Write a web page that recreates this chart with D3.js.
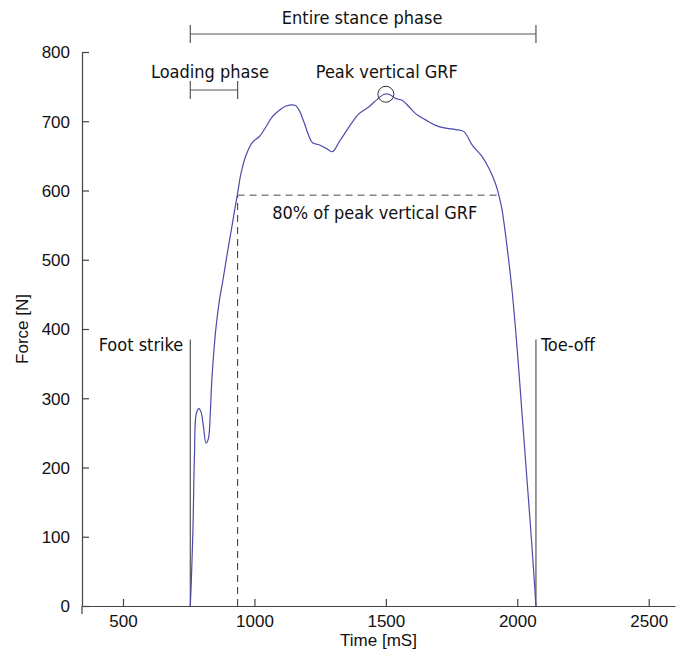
<!DOCTYPE html>
<html>
<head>
<meta charset="utf-8">
<script src="https://cdn.jsdelivr.net/npm/d3@7"></script>
<style>
  body { margin: 0; background: #fff; }
  svg { display: block; }
  .tick text { font-family: "Liberation Sans", Arial, sans-serif; font-size: 17px; fill: #111; }
  .note { font-family: "DejaVu Sans Condensed", "DejaVu Sans", sans-serif; font-size: 18px; fill: #111; }
  .axlabel { font-family: "Liberation Sans", Arial, sans-serif; font-size: 17px; fill: #111; }
</style>
</head>
<body>
<svg id="chart" width="684" height="656"></svg>
<script>
// vertical ground reaction force
const curveTime = [756, 760, 766, 772, 779, 789, 797, 806, 816, 825, 832, 837, 844, 854, 867, 880, 897, 913, 924,
  936, 949, 968, 993, 1019, 1044, 1069, 1095, 1120, 1155, 1170, 1190, 1208, 1221, 1246, 1272, 1297, 1322, 1348,
  1373, 1398, 1436, 1468, 1493, 1512, 1537, 1563, 1588, 1613, 1651, 1689, 1727, 1765, 1797, 1828, 1866, 1892,
  1917, 1930, 1942, 1961, 1980, 1999, 2018, 2037, 2056, 2071];
const curveForce = [0, 37, 109, 220, 278, 285, 280, 259, 235, 242, 278, 320, 360, 403, 442, 470, 510, 545, 570,
  596, 625, 651, 670, 678, 692, 707, 716, 722, 723, 716, 697, 678, 669, 666, 661, 656, 670, 685,
  699, 711, 721, 732, 739, 739, 733, 730, 721, 711, 702, 694, 690, 688, 685, 666, 649, 632,
  610, 593, 572, 519, 456, 374, 278, 182, 85, 0];

// events
const footStrike = 756;
const toeOff = 2071;
const loadingEnd = 936;
const peakTime = 1500;
const peakForce = 739;
const eightyPct = 593;
const eventLineTop = 385;

const xTicks = [500, 1000, 1500, 2000, 2500];
const yTicks = [0, 100, 200, 300, 400, 500, 600, 700, 800];

const svg = d3.select("#chart");
const margin = { left: 82, right: 9, top: 52, bottom: 50 };
const width = 684, height = 656;

const x = d3.scaleLinear().domain([344, 2600]).range([margin.left, width - margin.right]);
const y = d3.scaleLinear().domain([0, 800]).range([height - margin.bottom, margin.top]);

const axisColor = "#444";
const noteColor = "#555";

// axes, ticks pointing inward
const xAxis = svg.append("g")
  .attr("transform", `translate(0,${y(0)})`)
  .call(d3.axisBottom(x).tickValues(xTicks).tickFormat(d3.format("d"))
    .tickSizeInner(-7).tickSizeOuter(0).tickPadding(9));
const yAxis = svg.append("g")
  .attr("transform", `translate(${x.range()[0]},0)`)
  .call(d3.axisLeft(y).tickValues(yTicks).tickSizeInner(-7).tickSizeOuter(0).tickPadding(12));
[xAxis, yAxis].forEach(a => {
  a.selectAll("path, line").attr("stroke", axisColor).attr("stroke-width", 1.2);
});
yAxis.selectAll(".tick text").attr("dy", "0.35em");
// y axis runs a little below zero
svg.append("line")
  .attr("x1", x.range()[0]).attr("x2", x.range()[0])
  .attr("y1", y(0)).attr("y2", y(0) + 8)
  .attr("stroke", axisColor).attr("stroke-width", 1.2);

svg.append("text").attr("class", "axlabel")
  .attr("x", (x(344) + x(2600)) / 2).attr("y", 646)
  .attr("text-anchor", "middle").text("Time [mS]");
svg.append("text").attr("class", "axlabel")
  .attr("transform", `translate(28,${y(400)}) rotate(-90)`)
  .attr("text-anchor", "middle").text("Force [N]");

// event lines
[footStrike, toeOff].forEach(t => {
  svg.append("line")
    .attr("x1", x(t)).attr("x2", x(t))
    .attr("y1", y(0)).attr("y2", y(eventLineTop))
    .attr("stroke", noteColor).attr("stroke-width", 1.2);
});
svg.append("text").attr("class", "note")
  .attr("x", x(footStrike) - 7).attr("y", y(eventLineTop) + 12)
  .attr("text-anchor", "end").text("Foot strike");
svg.append("text").attr("class", "note")
  .attr("x", x(toeOff) + 5).attr("y", y(eventLineTop) + 12)
  .text("Toe-off");

// 80% dashed lines
const dash = "7,5";
svg.append("line")
  .attr("x1", x(loadingEnd)).attr("x2", x(loadingEnd))
  .attr("y1", y(0)).attr("y2", y(eightyPct))
  .attr("stroke", "#333").attr("stroke-width", 1).attr("stroke-dasharray", dash);
svg.append("line")
  .attr("x1", x(loadingEnd)).attr("x2", x(1925))
  .attr("y1", y(eightyPct)).attr("y2", y(eightyPct))
  .attr("stroke", "#888").attr("stroke-width", 1.5).attr("stroke-dasharray", dash);
svg.append("text").attr("class", "note")
  .attr("x", x(1458)).attr("y", y(eightyPct) + 24)
  .attr("text-anchor", "middle").text("80% of peak vertical GRF");

// phase brackets
function bracket(t0, t1, yy, capH) {
  const g = svg.append("g").attr("stroke", noteColor).attr("stroke-width", 1.2);
  g.append("line").attr("x1", x(t0)).attr("x2", x(t1)).attr("y1", yy).attr("y2", yy);
  g.append("line").attr("x1", x(t0)).attr("x2", x(t0)).attr("y1", yy - capH).attr("y2", yy + capH);
  g.append("line").attr("x1", x(t1)).attr("x2", x(t1)).attr("y1", yy - capH).attr("y2", yy + capH);
}
bracket(footStrike, toeOff, 34, 9);
bracket(footStrike, loadingEnd, 90, 9);
svg.append("text").attr("class", "note")
  .attr("x", x((footStrike + toeOff) / 2) - 1).attr("y", 24)
  .attr("text-anchor", "middle").text("Entire stance phase");
svg.append("text").attr("class", "note")
  .attr("x", x((footStrike + loadingEnd) / 2) - 4).attr("y", 78)
  .attr("text-anchor", "middle").text("Loading phase");
svg.append("text").attr("class", "note")
  .attr("x", x(peakTime) + 1).attr("y", 78)
  .attr("text-anchor", "middle").text("Peak vertical GRF");

// force curve
const pts = curveTime.map((t, i) => [t, curveForce[i]]);
svg.append("path")
  .datum(pts)
  .attr("fill", "none")
  .attr("stroke", "#4b4bab")
  .attr("stroke-width", 1.2)
  .attr("d", d3.line().x(d => x(d[0])).y(d => y(d[1])).curve(d3.curveCatmullRom.alpha(0.5)));

// peak marker
svg.append("circle")
  .attr("cx", x(peakTime)).attr("cy", y(peakForce))
  .attr("r", 8)
  .attr("fill", "none").attr("stroke", "#333").attr("stroke-width", 1);
</script>
</body>
</html>
